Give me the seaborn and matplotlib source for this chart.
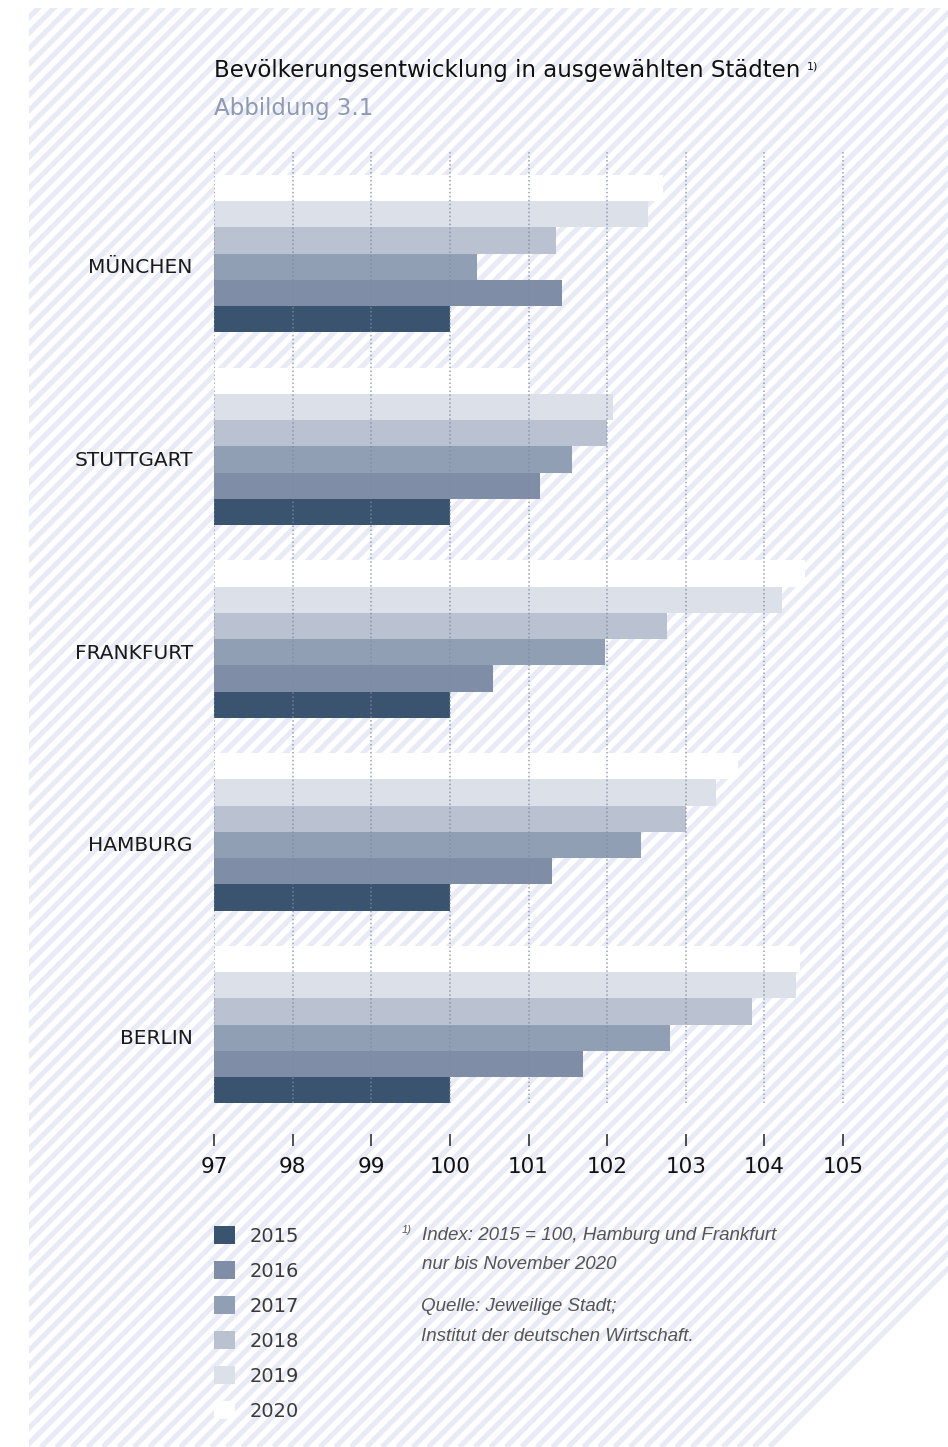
# Bevölkerungsentwicklung in ausgewählten Städten (Index 2015 = 100)

import pandas as pd
import seaborn as sns
import matplotlib.pyplot as plt
import numpy as np
from matplotlib.patches import Polygon, Patch

# Daten
cities = ['MÜNCHEN', 'STUTTGART', 'FRANKFURT', 'HAMBURG', 'BERLIN']
years = ['2015', '2016', '2017', '2018', '2019', '2020']
v2015 = [100.0, 100.0, 100.0, 100.0, 100.0]
v2016 = [101.42, 101.15, 100.55, 101.30, 101.69]
v2017 = [100.34, 101.55, 101.97, 102.43, 102.80]
v2018 = [101.35, 102.00, 102.76, 103.00, 103.84]
v2019 = [102.52, 102.07, 104.23, 103.39, 104.40]
v2020 = [102.71, 101.00, 104.52, 103.67, 104.45]
year_colors = ['#3a536f', '#7f8da6', '#909fb4', '#bac2d1', '#dce0e9', '#ffffff']
x_ticks = [97, 98, 99, 100, 101, 102, 103, 104, 105]

values = [v2015, v2016, v2017, v2018, v2019, v2020]
df = pd.DataFrame({
    'city': cities * len(years),
    'year': [y for y in years for _ in cities],
    'value': [v for vals in values for v in vals],
})

sns.set_theme(style='white')
plt.rcParams['font.family'] = ['DejaVu Sans']

W, H = 948, 1447
fig = plt.figure(figsize=(W / 100, H / 100), dpi=100, facecolor='white')

# Hintergrund: schraffierte Fläche mit abgeschnittener Ecke
bg = fig.add_axes([0, 0, 1, 1])
bg.set_xlim(0, W)
bg.set_ylim(H, 0)
bg.axis('off')
area = Polygon([(29, 8), (W, 8), (W, 1280), (781, H), (29, H)],
               closed=True, facecolor='white', edgecolor='none')
bg.add_patch(area)
for c in np.arange(-H, W + 20, 15.5):
    ln, = bg.plot([c, c + H], [H, 0], color='#e8ebf5', lw=3.7,
                  solid_capstyle='butt')
    ln.set_clip_path(area)

# Diagramm
x0, x1 = 97, 105.3
ppu = 78.57
ax = fig.add_axes([214.3 / W, 1 - 1103 / H, (x1 - x0) * ppu / W, 951 / H])
ax.patch.set_alpha(0)

sns.barplot(data=df, y='city', x='value', hue='year', hue_order=years[::-1],
            palette=dict(zip(years, year_colors)), order=cities, orient='h',
            width=0.817, saturation=1, errorbar=None, linewidth=0,
            legend=False, ax=ax)

ax.set_xlim(x0, x1)
ax.set_ylim(4.407, -0.527)
ax.set_xticks(x_ticks)
ax.set_xticklabels([str(t) for t in x_ticks])
ax.set_yticks(np.arange(len(cities)) + 0.062)
ax.set_yticklabels(cities)
ax.set_xlabel('')
ax.set_ylabel('')
for s in ax.spines.values():
    s.set_visible(False)
ax.spines['bottom'].set_position(('outward', 22))
ax.grid(axis='x', color='#7f8aa3', linestyle=(0, (1, 1.6)), linewidth=1.1, alpha=0.8)
ax.grid(axis='y', visible=False)
ax.set_axisbelow(False)
ax.tick_params(axis='x', bottom=True, length=8.6, width=1.1, color='#222222',
               pad=8, labelsize=15.5, labelcolor='#111111')
ax.tick_params(axis='y', left=False, length=0, pad=15.5, labelsize=14.5,
               labelcolor='#1a1a1a')

# Titel
title = fig.text(214.5 / W, 1 - 77 / H, 'Bevölkerungsentwicklung in ausgewählten Städten',
                 fontsize=16.5, color='#111111', va='baseline', ha='left')
fig.text(214.5 / W, 1 - 115 / H, 'Abbildung 3.1', fontsize=16.5, color='#8e9ab3',
         va='baseline', ha='left')
ax.annotate('1)', xy=(1, 1), xycoords=title, xytext=(4, -2),
            textcoords='offset points', fontsize=8, color='#111111',
            va='top', ha='left')

# Legende
handles = [Patch(facecolor=c, edgecolor='none', label=y) for y, c in zip(years, year_colors)]
fig.legend(handles=handles, loc='upper left', bbox_to_anchor=(214 / W, 1 - 1226 / H),
           frameon=False, fontsize=14, handlelength=1.08, handleheight=1.08,
           handletextpad=0.75, labelspacing=0.78, borderpad=0, borderaxespad=0,
           labelcolor='#3a3a3a')

# Fußnote und Quelle
foot = dict(family=['Liberation Sans Narrow', 'Liberation Sans'], style='italic',
            color='#555555', fontsize=13.5, va='baseline', ha='left')
fig.text(402 / W, 1 - 1233 / H, '1)', **{**foot, 'fontsize': 8})
fig.text(422 / W, 1 - 1240 / H, 'Index: 2015 = 100, Hamburg und Frankfurt', **foot)
fig.text(422 / W, 1 - 1269 / H, 'nur bis November 2020', **foot)
fig.text(421 / W, 1 - 1311 / H, 'Quelle: Jeweilige Stadt;', **foot)
fig.text(421 / W, 1 - 1341 / H, 'Institut der deutschen Wirtschaft.', **foot)

fig.savefig('out.png', dpi=100, facecolor='white')
